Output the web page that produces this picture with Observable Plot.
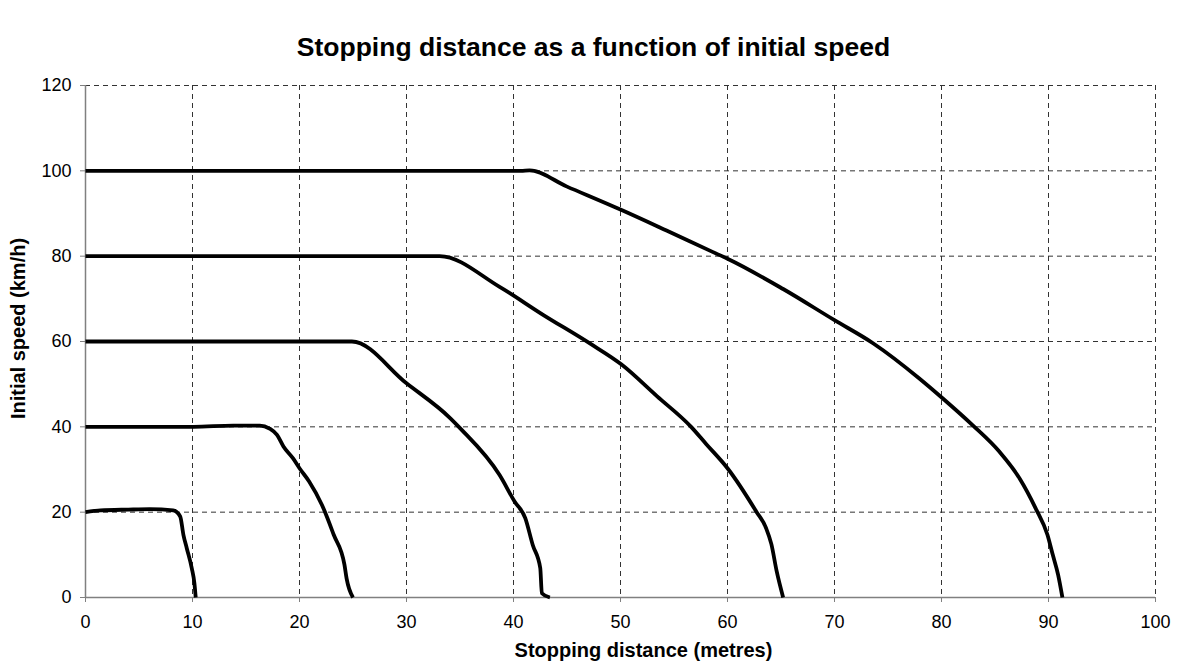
<!DOCTYPE html>
<html>
<head>
<meta charset="utf-8">
<script src="https://cdn.jsdelivr.net/npm/d3@7"></script>
<script src="https://cdn.jsdelivr.net/npm/@observablehq/plot@0.6"></script>
<style>
  html, body { margin: 0; padding: 0; background: #fff; }
  #chart svg { display: block; }
</style>
</head>
<body>
<div id="chart"></div>
<script>
// Initial speeds (km/h) of each curve
const speeds = [20, 40, 60, 80, 100];

const dist20  = [0, 1.4, 4.0, 6.0, 8.2, 8.85, 9.15, 9.47, 9.93, 10.18, 10.3];
const speed20 = [20, 20.4, 20.6, 20.7, 20.4, 19.0, 14.7, 11.5, 6.9, 3.3, 0];

const dist40  = [0, 10.1, 13.8, 16.3, 17.2, 17.9, 18.5, 19.4, 20.0, 20.9, 22.1, 23.2, 24.2, 24.4, 25.0];
const speed40 = [40, 40, 40.3, 40.3, 39.6, 38.1, 35.4, 32.6, 30.3, 27.2, 21.7, 14.7, 7.7, 4.5, 0];

const dist60  = [0, 24.9, 30.0, 34.1, 35.0, 38.7, 40.1, 41.1, 41.8, 42.5, 42.65, 43.4];
const speed60 = [60, 60, 50.2, 42.0, 39.7, 28.7, 22.5, 18.6, 12.3, 6.9, 1.0, 0];

const dist80  = [0, 33.1, 38.7, 42.8, 47.1, 50.1, 53.4, 56.6, 58.0, 60.0, 62.7, 63.6, 64.1, 64.6, 65.2];
const speed80 = [80, 80, 72.8, 66.2, 59.6, 54.6, 47.2, 40.0, 36.0, 30.3, 20.1, 16.3, 12.5, 6.1, 0];

const dist100  = [0, 40.7, 41.5, 45.0, 50.1, 54.3, 58.6, 60.0, 65.2, 70.0, 73.6, 77.9, 80.1, 82.9, 85.4, 87.3, 88.8, 89.9, 90.4, 90.9, 91.3];
const speed100 = [100, 100, 100.1, 96.3, 90.8, 86.0, 81.0, 79.4, 72.3, 65.0, 59.6, 51.4, 46.7, 40.4, 34.2, 27.9, 20.9, 14.7, 10.0, 5.3, 0];

// Axis ticks
const xTicks = [0, 10, 20, 30, 40, 50, 60, 70, 80, 90, 100];
const yTicks = [0, 20, 40, 60, 80, 100, 120];

const titleText = "Stopping distance as a function of initial speed";
const xLabel = "Stopping distance (metres)";
const yLabel = "Initial speed (km/h)";

const seriesDist = [dist20, dist40, dist60, dist80, dist100];
const seriesSpeed = [speed20, speed40, speed60, speed80, speed100];
const rows = [];
speeds.forEach((s, i) => {
  seriesDist[i].forEach((d, j) => rows.push({series: s, distance: d, speed: seriesSpeed[i][j]}));
});

const font = "'Liberation Sans', Arial, Helvetica, sans-serif";

const chart = Plot.plot({
  width: 1185,
  height: 666,
  marginTop: 85,
  marginBottom: 69,
  marginLeft: 85,
  marginRight: 30,
  style: {fontFamily: font, fontSize: "18px", color: "#000", background: "#fff"},
  x: {domain: [0, 100], ticks: xTicks},
  y: {domain: [0, 120], ticks: yTicks},
  marks: [
    Plot.gridX(xTicks, {stroke: "#333", strokeOpacity: 1, strokeDasharray: "5,4", strokeWidth: 1}),
    Plot.gridY(yTicks, {stroke: "#333", strokeOpacity: 1, strokeDasharray: "5,4", strokeWidth: 1}),
    Plot.ruleX([0], {stroke: "#808080", strokeWidth: 1.5}),
    Plot.ruleY([0], {stroke: "#808080", strokeWidth: 1.5}),
    Plot.axisX(xTicks, {label: null, tickSize: 5, tickPadding: 13, stroke: "#808080", fill: "#000", fontSize: 18}),
    Plot.axisY(yTicks, {label: null, tickSize: 5, tickPadding: 9, stroke: "#808080", fill: "#000", fontSize: 18}),
    Plot.line(rows, {
      x: "distance", y: "speed", z: "series",
      stroke: "#000", strokeWidth: 3.8, curve: "monotone-x",
      strokeLinejoin: "round", strokeLinecap: "butt"
    }),
    Plot.text([titleText], {frameAnchor: "top", lineAnchor: "middle", textAnchor: "middle", dx: -27, dy: -38, fontWeight: "bold", fontSize: 26.5, fill: "#000"}),
    Plot.text([xLabel], {frameAnchor: "bottom", lineAnchor: "middle", textAnchor: "middle", dx: 23, dy: 53, fontWeight: "bold", fontSize: 20, fill: "#000"}),
    Plot.text([yLabel], {frameAnchor: "left", lineAnchor: "middle", textAnchor: "middle", dx: -67, dy: -13, rotate: -90, fontWeight: "bold", fontSize: 20, fill: "#000"})
  ]
});

document.getElementById("chart").appendChild(chart);
</script>
</body>
</html>
